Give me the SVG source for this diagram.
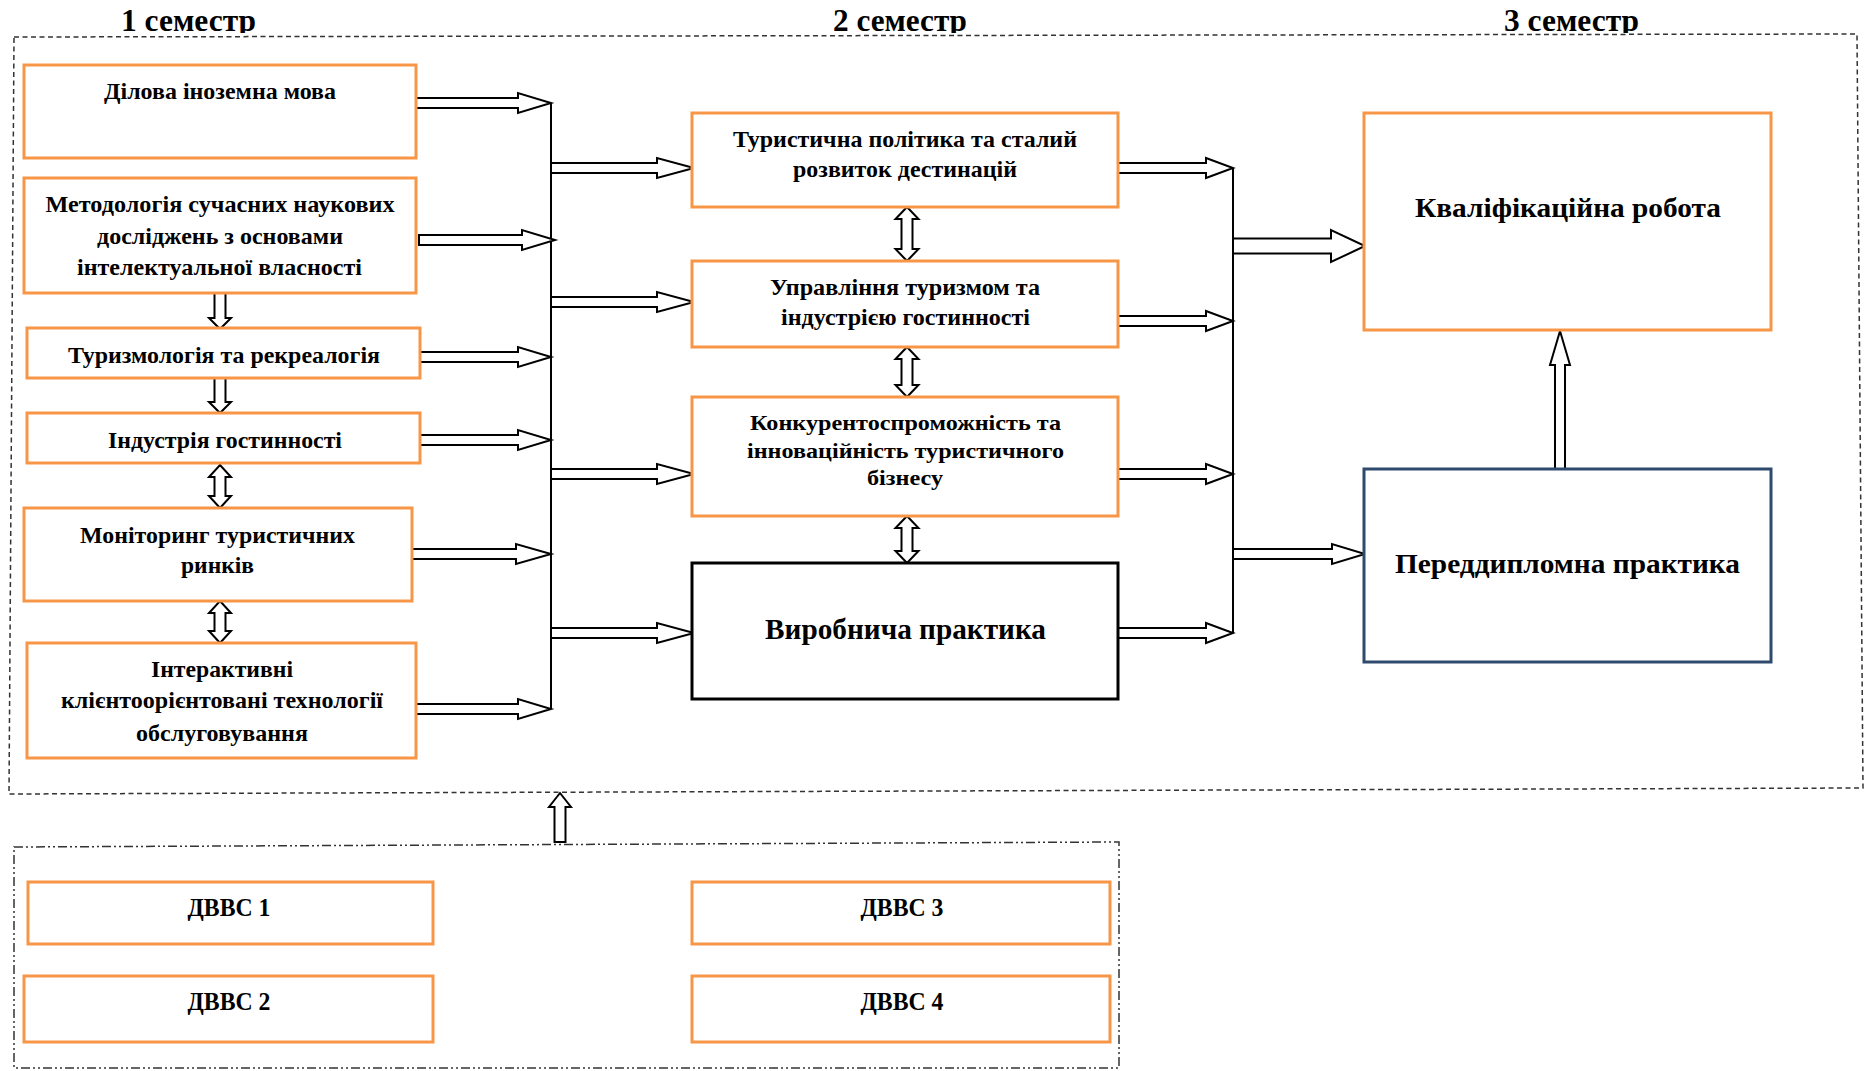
<svg xmlns="http://www.w3.org/2000/svg" width="1865" height="1071" viewBox="0 0 1865 1071">
<style>
text{font-family:"Liberation Serif","Times New Roman",serif;font-weight:bold;fill:#000;text-anchor:middle}
.t{font-size:23px}
.tc{font-size:22px}
.tl{font-size:28px}
.ttl{font-size:31px}
.td{font-size:25px}
.ob{fill:#fff;stroke:#F79646;stroke-width:3}
.bb{fill:#fff;stroke:#000;stroke-width:3}
.nb{fill:#fff;stroke:#2E4A6E;stroke-width:3}
.ar{fill:#fff;stroke:#000;stroke-width:2;stroke-linejoin:miter}
.bus{fill:none;stroke:#000;stroke-width:2}
.dash{fill:none;stroke:#333;stroke-width:1.5;stroke-dasharray:5 3.5}
.dd{fill:none;stroke:#333;stroke-width:1.5;stroke-dasharray:9 3 2 3 2 3}
</style>
<defs>
<clipPath id="tclip"><rect x="0" y="0" width="1865" height="33"/></clipPath>
</defs>
<rect width="1865" height="1071" fill="#fff"/>

<g id="frames">
<polygon class="dash" points="14,37 1857,34 1863,788 9,794"/>
<polygon class="dd" points="14,847 1119,842 1119,1068 14,1068"/>
</g>

<g id="titles" clip-path="url(#tclip)">
<text class="ttl" x="188.5" y="31" textLength="135" lengthAdjust="spacingAndGlyphs">1 семестр</text>
<text class="ttl" x="900" y="31" textLength="134" lengthAdjust="spacingAndGlyphs">2 семестр</text>
<text class="ttl" x="1571.5" y="31" textLength="135" lengthAdjust="spacingAndGlyphs">3 семестр</text>
</g>

<g id="connectors">
<!-- left bus -->
<line class="bus" x1="551" y1="103" x2="551" y2="709"/>
<!-- right bus -->
<line class="bus" x1="1233" y1="168" x2="1233" y2="633"/>
<!-- col1 to left bus -->
<polygon class="ar" points="416,98 518,98 518,93 551,103 518,113 518,108 416,108"/>
<polygon class="ar" points="419,235 522,235 522,230 555,240 522,250 522,245 419,245"/>
<polygon class="ar" points="420,352 518,352 518,347 551,357 518,367 518,362 420,362"/>
<polygon class="ar" points="420,435 518,435 518,430 551,440 518,450 518,445 420,445"/>
<polygon class="ar" points="412,549 516,549 516,544 551,554 516,564 516,559 412,559"/>
<polygon class="ar" points="416,704 518,704 518,699 551,709 518,719 518,714 416,714"/>
<!-- left bus to col2 -->
<polygon class="ar" points="551,163 657,163 657,158 694,168 657,178 657,173 551,173"/>
<polygon class="ar" points="551,297 657,297 657,292 694,302 657,312 657,307 551,307"/>
<polygon class="ar" points="551,469 657,469 657,464 694,474 657,484 657,479 551,479"/>
<polygon class="ar" points="551,628 657,628 657,623 694,633 657,643 657,638 551,638"/>
<!-- col2 to right bus -->
<polygon class="ar" points="1118,163 1206,163 1206,158 1233,168 1206,178 1206,173 1118,173"/>
<polygon class="ar" points="1118,316 1206,316 1206,311 1233,321 1206,331 1206,326 1118,326"/>
<polygon class="ar" points="1118,469 1206,469 1206,464 1233,474 1206,484 1206,479 1118,479"/>
<polygon class="ar" points="1118,628 1206,628 1206,623 1233,633 1206,643 1206,638 1118,638"/>
<!-- right bus to col3 -->
<polygon class="ar" points="1233,238.5 1331,238.5 1331,230 1365,246 1331,262 1331,253.5 1233,253.5"/>
<polygon class="ar" points="1233,549 1332,549 1332,544 1365,554 1332,564 1332,559 1233,559"/>
<!-- col1 vertical arrows -->
<polygon class="ar" points="214.5,293 225.5,293 225.5,318 231,318 220,329 209,318 214.5,318"/>
<polygon class="ar" points="214.5,378 225.5,378 225.5,402 231,402 220,413 209,402 214.5,402"/>
<polygon class="ar" points="220,465 231,477 225.5,477 225.5,496 231,496 220,508 209,496 214.5,496 214.5,477 209,477"/>
<polygon class="ar" points="220,601 231,613 225.5,613 225.5,631 231,631 220,643 209,631 214.5,631 214.5,613 209,613"/>
<!-- col2 vertical arrows -->
<polygon class="ar" points="907,207 918.5,219 912.5,219 912.5,249 918.5,249 907,261 895.5,249 901.5,249 901.5,219 895.5,219"/>
<polygon class="ar" points="907,347 918.5,359 912.5,359 912.5,385 918.5,385 907,397 895.5,385 901.5,385 901.5,359 895.5,359"/>
<polygon class="ar" points="907,516 918.5,528 912.5,528 912.5,551 918.5,551 907,563 895.5,551 901.5,551 901.5,528 895.5,528"/>
<!-- F to E -->
<polygon class="ar" points="1555,469 1555,365 1550,365 1560,331 1570,365 1565,365 1565,469"/>
<!-- bottom block up -->
<polygon class="ar" points="554.5,842 554.5,807 549,807 560,793 571,807 565.5,807 565.5,842"/>
</g>

<g id="n-dilova">
<rect class="ob" x="24" y="65" width="392" height="93"/>
<text class="t" x="220" y="99" textLength="232" lengthAdjust="spacingAndGlyphs">Ділова іноземна мова</text>
</g>
<g id="n-metod">
<rect class="ob" x="24" y="178" width="392" height="115"/>
<text class="t" x="220" y="212" textLength="349" lengthAdjust="spacingAndGlyphs">Методологія сучасних наукових</text>
<text class="t" x="220" y="244" textLength="246" lengthAdjust="spacingAndGlyphs">досліджень з основами</text>
<text class="t" x="219.5" y="275" textLength="285" lengthAdjust="spacingAndGlyphs">інтелектуальної власності</text>
</g>
<g id="n-turyzm">
<rect class="ob" x="27" y="328" width="393" height="50"/>
<text class="t" x="224" y="363" textLength="312" lengthAdjust="spacingAndGlyphs">Туризмологія та рекреалогія</text>
</g>
<g id="n-industr">
<rect class="ob" x="27" y="413" width="393" height="50"/>
<text class="t" x="225" y="448" textLength="234" lengthAdjust="spacingAndGlyphs">Індустрія гостинності</text>
</g>
<g id="n-monit">
<rect class="ob" x="24" y="508" width="388" height="93"/>
<text class="t" x="217.5" y="543" textLength="275" lengthAdjust="spacingAndGlyphs">Моніторинг туристичних</text>
<text class="t" x="217.5" y="573" textLength="73" lengthAdjust="spacingAndGlyphs">ринків</text>
</g>
<g id="n-interakt">
<rect class="ob" x="27" y="643" width="389" height="115"/>
<text class="t" x="222" y="677" textLength="142" lengthAdjust="spacingAndGlyphs">Інтерактивні</text>
<text class="t" x="222" y="708" textLength="322" lengthAdjust="spacingAndGlyphs">клієнтоорієнтовані технології</text>
<text class="t" x="222" y="741" textLength="172" lengthAdjust="spacingAndGlyphs">обслуговування</text>
</g>

<g id="n-polityka">
<rect class="ob" x="692" y="113" width="426" height="94"/>
<text class="t" x="905" y="147" textLength="344" lengthAdjust="spacingAndGlyphs">Туристична політика та сталий</text>
<text class="t" x="905" y="177" textLength="224" lengthAdjust="spacingAndGlyphs">розвиток дестинацій</text>
</g>
<g id="n-upravl">
<rect class="ob" x="692" y="261" width="426" height="86"/>
<text class="t" x="905" y="295" textLength="270" lengthAdjust="spacingAndGlyphs">Управління туризмом та</text>
<text class="t" x="905.5" y="325" textLength="249" lengthAdjust="spacingAndGlyphs">індустрією гостинності</text>
</g>
<g id="n-konkur">
<rect class="ob" x="692" y="397" width="426" height="119"/>
<text class="tc" x="905.5" y="430" textLength="311" lengthAdjust="spacingAndGlyphs">Конкурентоспроможність та</text>
<text class="tc" x="905.5" y="458" textLength="317" lengthAdjust="spacingAndGlyphs">інноваційність туристичного</text>
<text class="tc" x="905" y="485" textLength="76" lengthAdjust="spacingAndGlyphs">бізнесу</text>
</g>
<g id="n-vyrob">
<rect class="bb" x="692" y="563" width="426" height="136"/>
<text x="905.5" y="639" style="font-size:29px" textLength="281" lengthAdjust="spacingAndGlyphs">Виробнича практика</text>
</g>

<g id="n-kvalif">
<rect class="ob" x="1364" y="113" width="407" height="217"/>
<text class="tl" x="1568" y="217" textLength="306" lengthAdjust="spacingAndGlyphs">Кваліфікаційна робота</text>
</g>
<g id="n-peredd">
<rect class="nb" x="1364" y="469" width="407" height="193"/>
<text class="tl" x="1567.5" y="573" textLength="345" lengthAdjust="spacingAndGlyphs">Переддипломна практика</text>
</g>

<g id="n-dvvs1">
<rect class="ob" x="28" y="882" width="405" height="62"/>
<text class="td" x="229" y="916" textLength="83" lengthAdjust="spacingAndGlyphs">ДВВС 1</text>
</g>
<g id="n-dvvs2">
<rect class="ob" x="24" y="976" width="409" height="66"/>
<text class="td" x="229" y="1010" textLength="83" lengthAdjust="spacingAndGlyphs">ДВВС 2</text>
</g>
<g id="n-dvvs3">
<rect class="ob" x="692" y="882" width="418" height="62"/>
<text class="td" x="902" y="916" textLength="83" lengthAdjust="spacingAndGlyphs">ДВВС 3</text>
</g>
<g id="n-dvvs4">
<rect class="ob" x="692" y="976" width="418" height="66"/>
<text class="td" x="902" y="1010" textLength="83" lengthAdjust="spacingAndGlyphs">ДВВС 4</text>
</g>
</svg>
